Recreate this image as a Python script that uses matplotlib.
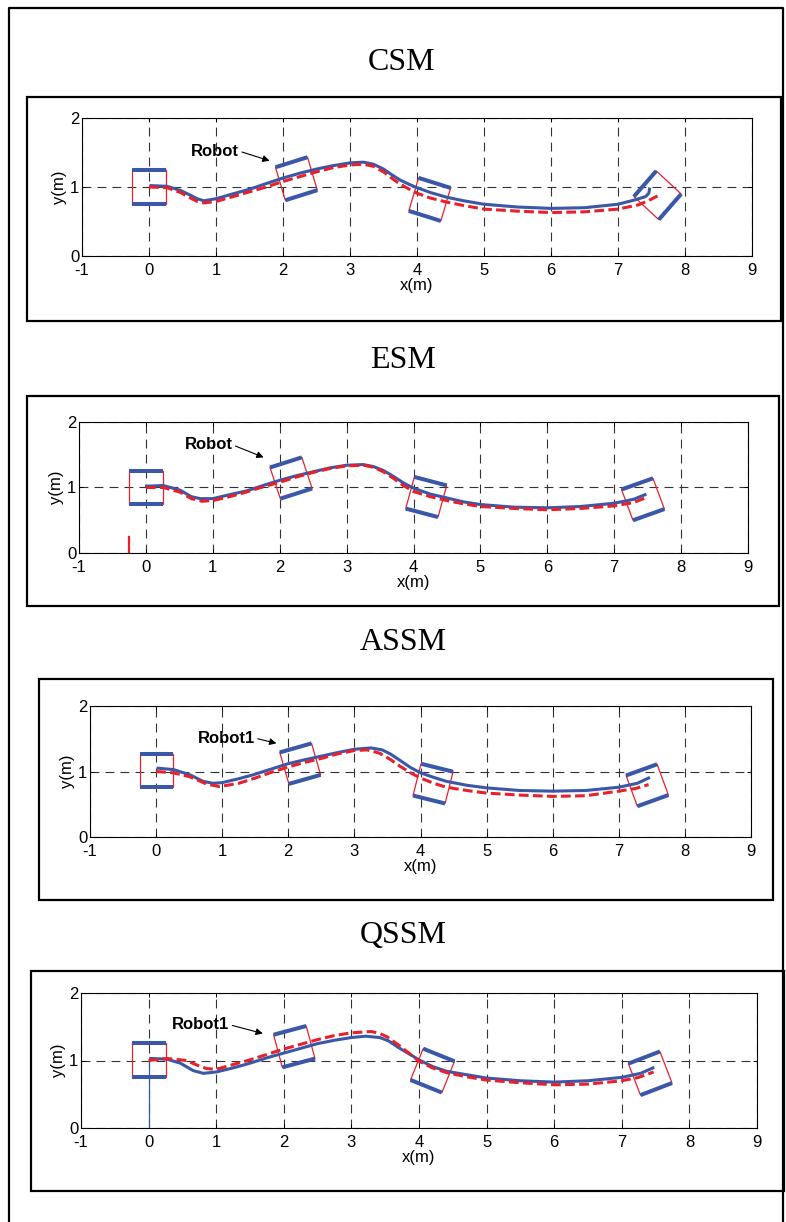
import numpy as np
import matplotlib.pyplot as plt
from matplotlib.patches import Rectangle, Polygon
from matplotlib.lines import Line2D

plt.rcParams['font.family'] = ['Liberation Sans', 'DejaVu Sans']
plt.rcParams['axes.unicode_minus'] = False

BLUE = '#3a57a8'
RED = '#e8202a'

titles = ['CSM', 'ESM', 'ASSM', 'QSSM']
robot_names = ['Robot', 'Robot', 'Robot1', 'Robot1']
x_ticks = [-1, 0, 1, 2, 3, 4, 5, 6, 7, 8, 9]
y_ticks = [0, 1, 2]

# ---- CSM ----
csm_blue_x = [0.03, 0.27, 0.47, 0.62, 0.72, 0.82, 1.0, 1.25, 1.51, 1.75, 2.0, 2.25, 2.5, 2.75, 3.0, 3.2,
              3.35, 3.5, 3.62, 3.75, 3.88, 4.0, 4.2, 4.45, 4.7, 5.0, 5.5, 6.0, 6.5, 7.0, 7.24, 7.41, 7.46, 7.47]
csm_blue_y = [1.02, 1.01, 0.95, 0.88, 0.83, 0.80, 0.83, 0.90, 0.97, 1.05, 1.13, 1.20, 1.26, 1.31, 1.35, 1.36,
              1.33, 1.26, 1.18, 1.10, 1.04, 0.99, 0.92, 0.85, 0.80, 0.75, 0.71, 0.69, 0.70, 0.75, 0.81, 0.86, 0.91, 0.97]
csm_red_x = [0.0, 0.27, 0.47, 0.62, 0.72, 0.82, 1.0, 1.25, 1.5, 1.75, 2.0, 2.25, 2.5, 2.75, 3.0, 3.2,
             3.35, 3.5, 3.62, 3.75, 3.88, 4.0, 4.2, 4.45, 4.7, 5.0, 5.5, 6.0, 6.5, 7.0, 7.3, 7.45, 7.59]
csm_red_y = [1.0, 0.99, 0.92, 0.84, 0.79, 0.77, 0.79, 0.86, 0.93, 1.0, 1.08, 1.15, 1.22, 1.28, 1.32, 1.33,
             1.30, 1.22, 1.13, 1.04, 0.97, 0.91, 0.84, 0.78, 0.73, 0.68, 0.65, 0.63, 0.64, 0.68, 0.74, 0.80, 0.87]
csm_robot_x = [0.0, 2.20, 4.19, 7.59]
csm_robot_y = [1.0, 1.12, 0.82, 0.88]
csm_robot_th = [0, 17, -17, 48]

# ---- ESM ----
esm_blue_x = [0.01, 0.26, 0.51, 0.68, 0.81, 1.0, 1.25, 1.51, 1.75, 2.0, 2.25, 2.5, 2.75, 3.0, 3.25,
              3.4, 3.55, 3.7, 3.85, 4.0, 4.25, 4.5, 4.75, 5.0, 5.5, 6.0, 6.5, 7.0, 7.29, 7.46]
esm_blue_y = [1.02, 1.03, 0.96, 0.86, 0.83, 0.83, 0.89, 0.95, 1.03, 1.11, 1.18, 1.24, 1.30, 1.34, 1.35,
              1.32, 1.26, 1.17, 1.07, 0.99, 0.90, 0.84, 0.78, 0.74, 0.70, 0.69, 0.71, 0.76, 0.82, 0.89]
esm_red_x = [0.0, 0.26, 0.51, 0.68, 0.84, 1.0, 1.25, 1.5, 1.75, 2.0, 2.25, 2.5, 2.75, 3.0, 3.25,
             3.4, 3.55, 3.7, 3.85, 4.0, 4.25, 4.5, 4.75, 5.0, 5.5, 6.0, 6.5, 7.0, 7.29, 7.46]
esm_red_y = [1.0, 1.0, 0.93, 0.83, 0.79, 0.80, 0.86, 0.93, 1.01, 1.08, 1.16, 1.23, 1.29, 1.33, 1.34,
             1.31, 1.24, 1.14, 1.03, 0.94, 0.86, 0.80, 0.75, 0.71, 0.68, 0.66, 0.68, 0.72, 0.77, 0.84]
esm_robot_x = [0.0, 2.17, 4.19, 7.43]
esm_robot_y = [1.0, 1.145, 0.855, 0.82]
esm_robot_th = [0, 18, -15, 20]

# ---- ASSM ----
assm_blue_x = [0.03, 0.26, 0.51, 0.71, 0.86, 1.0, 1.25, 1.47, 1.75, 2.0, 2.25, 2.48, 2.75, 3.0, 3.25,
               3.42, 3.54, 3.69, 3.85, 4.0, 4.2, 4.39, 4.7, 5.0, 5.5, 6.0, 6.5, 7.0, 7.28, 7.45]
assm_blue_y = [1.05, 1.03, 0.95, 0.85, 0.82, 0.83, 0.89, 0.95, 1.04, 1.12, 1.18, 1.23, 1.29, 1.34, 1.36,
               1.33, 1.27, 1.17, 1.06, 0.98, 0.91, 0.85, 0.79, 0.75, 0.71, 0.70, 0.71, 0.76, 0.82, 0.90]
assm_red_x = [0.0, 0.26, 0.51, 0.76, 0.96, 1.25, 1.5, 1.75, 2.0, 2.25, 2.5, 2.75, 3.0, 3.19,
              3.38, 3.55, 3.69, 3.85, 4.0, 4.2, 4.39, 4.7, 5.0, 5.5, 6.0, 6.5, 7.0, 7.25, 7.45]
assm_red_y = [1.0, 0.98, 0.92, 0.81, 0.77, 0.82, 0.90, 0.99, 1.07, 1.14, 1.20, 1.27, 1.32, 1.33,
              1.28, 1.18, 1.08, 0.98, 0.90, 0.82, 0.76, 0.71, 0.67, 0.64, 0.62, 0.63, 0.70, 0.74, 0.80]
assm_robot_x = [0.0, 2.18, 4.19, 7.43]
assm_robot_y = [1.01, 1.12, 0.815, 0.79]
assm_robot_th = [0, 16, -14, 20]

# ---- QSSM ----
qssm_blue_x = [0.03, 0.27, 0.47, 0.66, 0.81, 1.0, 1.25, 1.5, 1.75, 2.0, 2.25, 2.5, 2.75, 3.0, 3.21,
               3.42, 3.55, 3.7, 3.85, 4.0, 4.2, 4.41, 4.7, 5.0, 5.5, 6.0, 6.5, 7.0, 7.28, 7.46]
qssm_blue_y = [1.03, 1.02, 0.96, 0.85, 0.81, 0.83, 0.89, 0.96, 1.04, 1.11, 1.18, 1.25, 1.30, 1.34, 1.36,
               1.34, 1.29, 1.19, 1.10, 1.01, 0.91, 0.84, 0.79, 0.74, 0.70, 0.68, 0.70, 0.75, 0.81, 0.89]
qssm_red_x = [0.0, 0.27, 0.56, 0.72, 0.86, 1.0, 1.25, 1.5, 1.75, 2.0, 2.25, 2.5, 2.75, 3.0, 3.29,
              3.42, 3.53, 3.71, 3.85, 4.0, 4.2, 4.41, 4.7, 5.0, 5.5, 6.0, 6.5, 7.0, 7.25, 7.47]
qssm_red_y = [1.0, 1.03, 1.0, 0.93, 0.88, 0.87, 0.94, 1.01, 1.09, 1.17, 1.24, 1.31, 1.37, 1.41, 1.43,
              1.40, 1.35, 1.22, 1.11, 0.99, 0.89, 0.82, 0.76, 0.71, 0.67, 0.64, 0.65, 0.70, 0.75, 0.83]
qssm_robot_x = [0.0, 2.155, 4.2, 7.42]
qssm_robot_y = [1.01, 1.205, 0.85, 0.81]
qssm_robot_th = [0, 15, -22, 21]

# label text anchor (left, middle) and arrow tip
label_x = [0.63, 0.58, 0.63, 0.35]
label_y = [1.52, 1.65, 1.51, 1.53]
tip_x = [1.80, 1.76, 1.82, 1.69]
tip_y = [1.38, 1.46, 1.43, 1.40]

blue_x = [csm_blue_x, esm_blue_x, assm_blue_x, qssm_blue_x]
blue_y = [csm_blue_y, esm_blue_y, assm_blue_y, qssm_blue_y]
red_x = [csm_red_x, esm_red_x, assm_red_x, qssm_red_x]
red_y = [csm_red_y, esm_red_y, assm_red_y, qssm_red_y]
rob_x = [csm_robot_x, esm_robot_x, assm_robot_x, qssm_robot_x]
rob_y = [csm_robot_y, esm_robot_y, assm_robot_y, qssm_robot_y]
rob_th = [csm_robot_th, esm_robot_th, assm_robot_th, qssm_robot_th]

# layout in pixels (x0, y0, x1, y1), y from top
W, H = 786, 1222
title_pos = [(402, 62), (403, 360), (403, 642), (403, 935)]
frames = [(27, 97, 781, 321), (27, 396, 779, 606), (39, 679, 773, 900), (31, 971, 784, 1191)]
axes_px = [(82, 118, 752, 256), (79, 422, 748, 553), (90, 706, 751, 837), (81, 993, 757, 1128)]


def to_fig(x0, y0, x1, y1):
    return [x0 / W, 1 - y1 / H, (x1 - x0) / W, (y1 - y0) / H]


def draw_robot(ax, cx, cy, th, size=0.5):
    t = np.deg2rad(th)
    u = np.array([np.cos(t), np.sin(t)]) * size / 2
    v = np.array([-np.sin(t), np.cos(t)]) * size / 2
    c = np.array([cx, cy])
    ax.add_patch(Polygon([c + u + v, c - u + v, c - u - v, c + u - v], closed=True,
                         fill=False, ec=RED, lw=0.9, zorder=3))
    for s in (1, -1):
        p, q = c - u + s * v, c + u + s * v
        ax.plot([p[0], q[0]], [p[1], q[1]], color=BLUE, lw=2.9,
                solid_capstyle='butt', zorder=4)


fig = plt.figure(figsize=(W / 100, H / 100), dpi=100)

# outer border: left, top and right sides only
bx0, by0, bx1 = 9 / W, 1 - 8 / H, 783 / W
fig.add_artist(Line2D([bx0, bx0, bx1, bx1], [0, by0, by0, 0], transform=fig.transFigure,
                      color='black', lw=1.6))

for i in range(4):
    fig.text(title_pos[i][0] / W, 1 - title_pos[i][1] / H, titles[i], family='Liberation Serif',
             fontsize=23, ha='center', va='center')
    fx0, fy0, fx1, fy1 = frames[i]
    fig.add_artist(Rectangle((fx0 / W, 1 - fy1 / H), (fx1 - fx0) / W, (fy1 - fy0) / H,
                             transform=fig.transFigure, fill=False, ec='black', lw=1.6))

    ax = fig.add_axes(to_fig(*axes_px[i]))
    ax.set_xlim(-1, 9)
    ax.set_ylim(0, 2)
    ax.set_xticks(x_ticks)
    ax.set_yticks(y_ticks)
    ax.tick_params(direction='in', length=3, width=0.7, top=True, right=True,
                   labelsize=12, colors='black')
    ax.tick_params(axis='x', pad=5)
    ax.tick_params(axis='y', pad=2)
    ax.grid(True, color='#333333', lw=0.8, linestyle=(0, (8, 5.5)))
    for sp in ax.spines.values():
        sp.set_linewidth(0.8)
    ax.set_xlabel('x(m)', fontsize=12, labelpad=0)
    ax.set_ylabel('y(m)', fontsize=12, labelpad=2)

    for k in range(len(rob_x[i])):
        draw_robot(ax, rob_x[i][k], rob_y[i][k], rob_th[i][k])

    ax.plot(blue_x[i], blue_y[i], color=BLUE, lw=2.2, zorder=5)
    ax.plot(red_x[i], red_y[i], color=RED, lw=2.2, dashes=(3.2, 1.4), zorder=6)

    ax.annotate(robot_names[i], xy=(tip_x[i], tip_y[i]), xytext=(label_x[i], label_y[i]),
                ha='left', va='center', fontsize=12, fontweight='bold',
                arrowprops=dict(arrowstyle='-|>', color='black', lw=0.8,
                                mutation_scale=10, relpos=(1, 0.5), shrinkA=0, shrinkB=0))

    if i == 1:
        ax.plot([-0.25, -0.25], [0, 0.25], color=RED, lw=1.6, zorder=5)
    if i == 3:
        ax.plot([0, 0], [0, 1], color=BLUE, lw=0.9, zorder=5)

fig.savefig('out.png', dpi=100)
